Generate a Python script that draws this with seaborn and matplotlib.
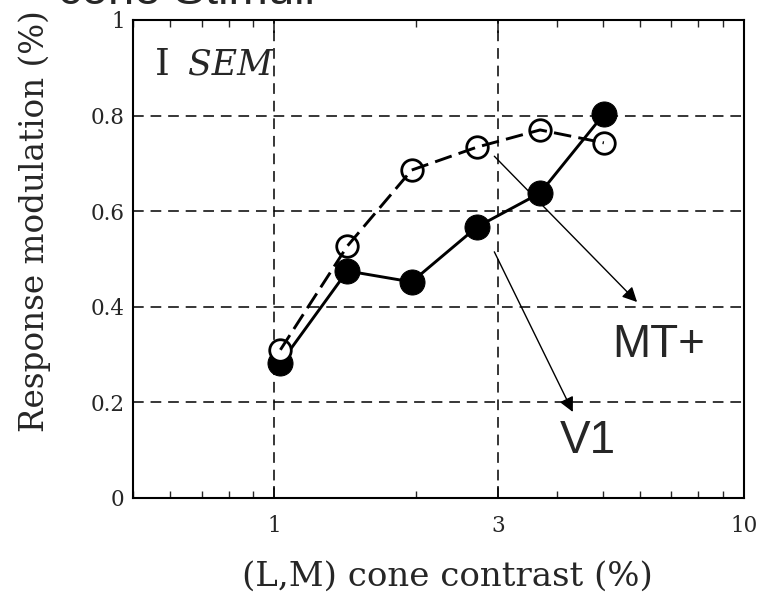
import numpy as np
import pandas as pd
import matplotlib
matplotlib.use("Agg")
import matplotlib.pyplot as plt
import seaborn as sns

# ---- data ----
contrast = [1.03, 1.43, 1.96, 2.70, 3.68, 5.03]
v1_resp = [0.282, 0.475, 0.452, 0.567, 0.638, 0.803]
mt_resp = [0.310, 0.527, 0.686, 0.734, 0.770, 0.743]
xtick_vals = [1, 3, 10]
xtick_labels = ["1", "3", "10"]
ytick_vals = [0, 0.2, 0.4, 0.6, 0.8, 1]
ytick_labels = ["0", "0.2", "0.4", "0.6", "0.8", "1"]

df_v1 = pd.DataFrame({"contrast": contrast, "resp": v1_resp})
df_mt = pd.DataFrame({"contrast": contrast, "resp": mt_resp})

sns.set_style("ticks")
plt.rcParams["font.family"] = ["DejaVu Serif"]

fig = plt.figure(figsize=(7.57, 6.0), dpi=100)
ax = fig.add_axes([133 / 757, 1 - 498 / 600, (744 - 133) / 757, (498 - 20) / 600])

# V1 filled circles, solid line
sns.lineplot(data=df_v1, x="contrast", y="resp", ax=ax, color="black",
             linewidth=2.1, marker="o", markersize=18, markerfacecolor="black",
             markeredgecolor="black", zorder=3)
# MT+ open circles (white face), then dashed line on top
sns.lineplot(data=df_mt, x="contrast", y="resp", ax=ax, color="black",
             linewidth=0, marker="o", markersize=15.5, markerfacecolor="white",
             markeredgecolor="black", markeredgewidth=2.0, zorder=4)
sns.lineplot(data=df_mt, x="contrast", y="resp", ax=ax, color="black",
             linewidth=2.1, zorder=5, dashes=False)
ax.lines[-1].set_dashes([6, 2.5])

ax.set_xscale("log")
ax.set_xlim(0.5, 10)
ax.set_ylim(0, 1)

# grid lines (dashed) at x=1,3 and y=0.2..0.8
for xv in [1, 3]:
    ax.axvline(xv, color="black", lw=1.1, ls=(0, (7, 4.5)), zorder=1)
for yv in [0.2, 0.4, 0.6, 0.8]:
    ax.axhline(yv, color="black", lw=1.1, ls=(0, (7, 4.5)), zorder=1)

ax.set_xticks(xtick_vals)
ax.set_xticklabels(xtick_labels)
ax.set_yticks(ytick_vals)
ax.set_yticklabels(ytick_labels)
ax.tick_params(axis="x", which="major", direction="in", length=9, width=1.2,
               top=True, labelsize=15.5, pad=12)
ax.tick_params(axis="x", which="minor", direction="in", length=5, width=1.0,
               top=True)
ax.tick_params(axis="y", which="major", direction="in", length=0,
               labelsize=15.5, pad=6)
for s in ax.spines.values():
    s.set_visible(True)
    s.set_linewidth(1.5)
    s.set_color("black")

ax.set_xlabel("(L,M) cone contrast (%)", fontsize=24.5)
ax.set_ylabel("Response modulation (%)", fontsize=23.5)
ax.xaxis.set_label_coords(0.514, -0.132)
ax.yaxis.set_label_coords(-0.135, 0.58)

# SEM indicator
ax.text(0.035, 0.885, "I", transform=ax.transAxes, fontsize=27,
        family="DejaVu Serif", va="baseline", ha="left")
ax.text(0.090, 0.885, "SEM", transform=ax.transAxes, fontsize=25,
        family="DejaVu Serif", style="italic", va="baseline", ha="left")

# arrows and area labels
ax.annotate("", xy=(5.92, 0.410), xytext=(2.94, 0.715),
            arrowprops=dict(arrowstyle="-|>", color="black", lw=1.0,
                            mutation_scale=22, shrinkA=0, shrinkB=0), zorder=6)
ax.annotate("", xy=(4.32, 0.180), xytext=(2.94, 0.515),
            arrowprops=dict(arrowstyle="-|>", color="black", lw=1.0,
                            mutation_scale=22, shrinkA=0, shrinkB=0), zorder=6)
ax.text(5.24, 0.295, "MT+", fontsize=33, family="Liberation Sans",
        va="baseline", ha="left")
ax.text(4.06, 0.094, "V1", fontsize=33, family="Liberation Sans",
        va="baseline", ha="left")

# title cut off at the top
fig.text(58 / 757, 1 - 4 / 600, "cone Stimuli", fontsize=34,
         family="Liberation Sans", va="baseline", ha="left")

fig.savefig("out.png", dpi=100)
